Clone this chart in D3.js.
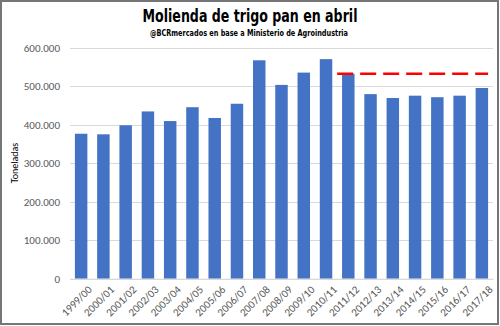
<!DOCTYPE html>
<html><head><meta charset="utf-8">
<script src="https://cdn.jsdelivr.net/npm/d3@7/dist/d3.min.js"></script>
<style>body{margin:0;background:#fff}svg{display:block}</style>
</head><body>
<script>
const categories = ["1999/00","2000/01","2001/02","2002/03","2003/04","2004/05","2005/06","2006/07","2007/08","2008/09","2009/10","2010/11","2011/12","2012/13","2013/14","2014/15","2015/16","2016/17","2017/18"];
const molienda = [377000,375500,399000,435000,410000,446000,418000,455000,568000,504000,536000,571000,533000,480000,470000,476000,472000,476000,496000];
const refCategories = ["2011/12","2017/18"];
const refValue = 533000;
const yTicks = [0,100000,200000,300000,400000,500000,600000];

(function(){
const W=500,H=326;
const svg=d3.select("body").append("svg").attr("width",W).attr("height",H);
svg.append("rect").attr("x",1).attr("y",1).attr("width",W-3).attr("height",H-3).attr("fill","#fff").attr("stroke","#767676").attr("stroke-width",2);

const pLeft=70,pRight=493,pTop=48,pBottom=278.7;
const x=d3.scaleBand().domain(categories).range([pLeft,pRight]).paddingInner(0.44).paddingOuter(0.22);
const y=d3.scaleLinear().domain([0,600000]).range([pBottom,pTop]);

const fmt=d=>d3.format(",")(d).replace(/,/g,".");

const grid=svg.append("g");
grid.selectAll("line").data(yTicks).join("line")
 .attr("x1",pLeft).attr("x2",pRight).attr("y1",d=>Math.round(y(d))+0.5).attr("y2",d=>Math.round(y(d))+0.5)
 .attr("stroke","#d9d9d9").attr("stroke-width",1);

const yAxis=svg.append("g").attr("transform",`translate(${pLeft},0)`)
 .call(d3.axisLeft(y).tickValues(yTicks).tickFormat(fmt).tickSize(0).tickPadding(10));
yAxis.select(".domain").remove();
yAxis.selectAll("text").attr("font-family","Calibri, Carlito, 'Liberation Sans', Arial, sans-serif").attr("font-size",11).attr("fill","#595959");

svg.append("g").selectAll("rect").data(categories).join("rect")
 .attr("x",d=>x(d)).attr("width",x.bandwidth())
 .attr("y",(d,i)=>y(molienda[i])).attr("height",(d,i)=>y(0)-y(molienda[i]))
 .attr("fill","#4472c4");

const xAxis=svg.append("g").attr("transform",`translate(0,${pBottom})`)
 .call(d3.axisBottom(x).tickSize(0).tickPadding(4));
xAxis.select(".domain").attr("stroke","#d9d9d9");
xAxis.selectAll("text")
 .attr("font-family","Calibri, Carlito, 'Liberation Sans', Arial, sans-serif").attr("font-size",11).attr("fill","#595959")
 .attr("text-anchor","end").attr("dy","0.35em")
 .attr("transform","translate(6,6) rotate(-45)");

const step=x.step();
svg.append("line")
 .attr("x1",x(refCategories[0])-(step-x.bandwidth())/2).attr("x2",x(refCategories[1])+x.bandwidth())
 .attr("y1",y(refValue)).attr("y2",y(refValue))
 .attr("stroke","#ff0000").attr("stroke-width",2.5).attr("stroke-dasharray","16,7");

svg.append("text").attr("x",250).attr("y",22).attr("text-anchor","middle")
 .attr("font-family","'Liberation Sans Narrow', 'DejaVu Sans Condensed', Arial, sans-serif").attr("font-weight","bold").attr("font-size",18)
 .attr("textLength",215).attr("lengthAdjust","spacingAndGlyphs")
 .text("Molienda de trigo pan en abril");
svg.append("text").attr("x",249).attr("y",36).attr("text-anchor","middle")
 .attr("font-family","'Liberation Sans Narrow', 'DejaVu Sans Condensed', Arial, sans-serif").attr("font-weight","bold").attr("font-size",9.5)
 .attr("textLength",198).attr("lengthAdjust","spacingAndGlyphs")
 .text("@BCRmercados en base a Ministerio de Agroindustria");

svg.append("text").attr("transform","translate(18,163) rotate(-90)").attr("text-anchor","middle")
 .attr("font-family","Calibri, Carlito, 'Liberation Sans', Arial, sans-serif").attr("font-size",10).attr("fill","#000")
 .text("Toneladas");
})();
</script>
</body></html>
